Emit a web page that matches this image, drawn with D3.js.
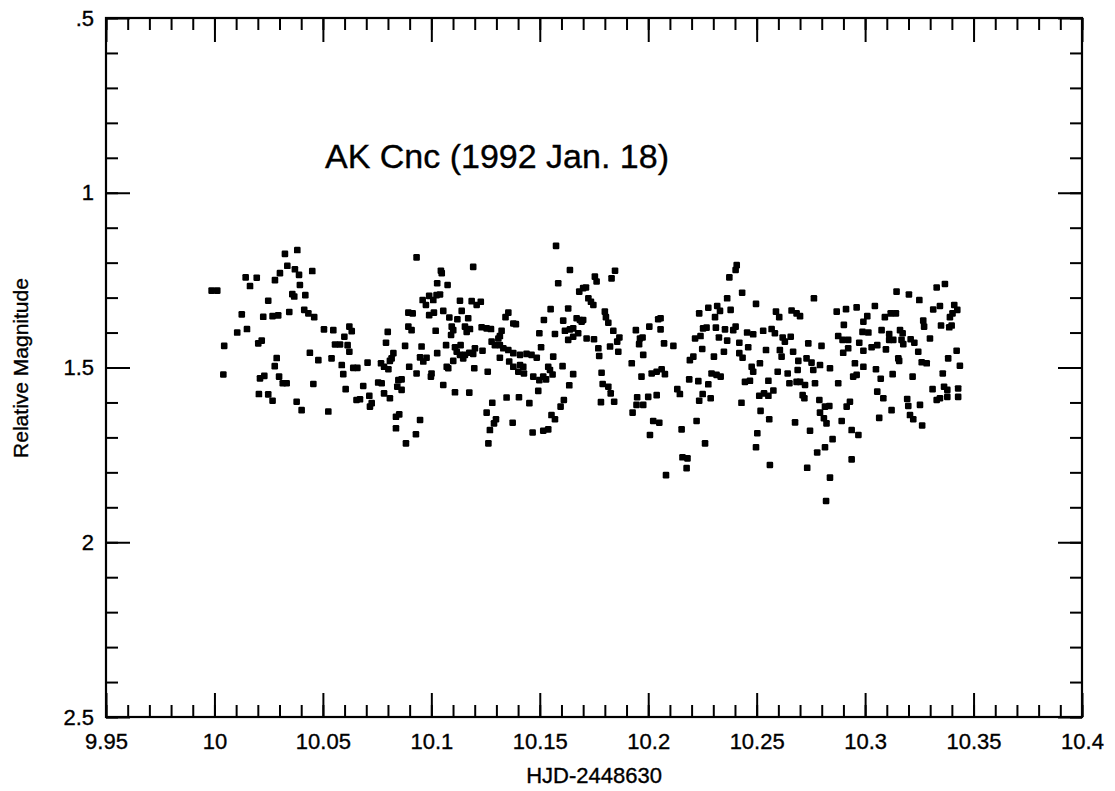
<!DOCTYPE html>
<html>
<head>
<meta charset="utf-8">
<script src="https://cdn.jsdelivr.net/npm/d3@7"></script>
<style>
  body { margin: 0; background: #fff; }
  text { font-family: "Liberation Sans", Arial, Helvetica, sans-serif; fill: #000; stroke: #000; stroke-width: 0.35px; }
</style>
</head>
<body>
<div id="data-viz"></div>
<script>
var hjd = [
  9.9987,10.0013,10.0325,10.0382,10.0144,10.0195,10.0164,10.0279,10.0302,10.0336,
  10.0371,10.0390,10.0451,10.0394,10.0359,10.0368,10.0419,10.0248,10.0126,10.0225,
  10.0268,10.0294,10.0345,10.0414,10.0433,10.0460,10.0105,10.0150,10.0045,10.0202,
  10.0218,10.0440,10.0287,10.0278,10.0041,10.0210,10.0230,10.0298,10.0315,10.0333,
  10.0456,10.0205,10.0248,10.0268,10.0379,10.0402,
  10.0932,10.0960,10.0894,10.0914,10.0505,10.0548,10.0622,10.0633,10.0599,10.0799,
  10.0894,10.0909,10.0556,10.0579,10.0614,10.0622,10.0791,10.0879,10.0955,10.0479,
  10.0540,10.0825,10.0817,10.0809,10.0948,10.0587,10.0594,10.0640,10.0659,10.0706,
  10.0768,10.0782,10.0802,10.0898,10.0932,10.0605,10.0686,10.0755,10.0771,10.0848,
  10.0863,10.0843,10.0863,10.0655,10.0671,10.0714,10.0725,10.0717,10.0782,10.0809,
  10.0525,10.0837,10.0852,10.0837,10.0948,10.0929,10.0883,
  10.1193,10.1044,10.1048,10.1027,10.1075,10.0975,10.0990,10.1009,10.1024,10.1040,
  10.1132,10.1186,10.1209,10.1228,10.0990,10.1012,10.1055,10.1140,10.1355,10.1342,
  10.1378,10.1390,10.1083,10.1120,10.1170,10.1020,10.1094,10.1101,10.1155,10.1178,
  10.1163,10.1232,10.1255,10.1275,10.1091,10.1324,10.1316,10.1309,10.1068,10.1109,
  10.1135,10.1278,10.1293,10.1316,10.1332,10.0978,10.0963,10.1027,10.1117,10.1132,
  10.1155,10.1175,10.1193,10.1201,10.1236,10.1147,10.1355,10.1378,10.1409,10.1439,
  10.1462,10.1101,10.1316,10.1359,10.1378,10.1409,10.1401,10.1424,10.1427,10.1071,
  10.1078,10.1198,10.1260,10.1001,10.0998,10.1470,10.1055,10.1109,10.1175,10.1347,
  10.1404,10.1452,10.1281,10.1255,10.1298,10.1289,10.1270,10.1375,10.1467,10.1263,
  10.1575,10.1639,10.1847,10.1831,10.1585,10.1754,10.1762,10.1682,10.1700,10.1713,
  10.1724,10.1736,10.1747,10.1550,10.1631,10.1800,10.1805,10.1816,10.1519,10.1608,
  10.1670,10.1685,10.1700,10.1693,10.1498,10.1570,10.1616,10.1639,10.1654,10.1677,
  10.1654,10.1631,10.1716,10.1750,10.1839,10.1867,10.1857,10.1824,10.1862,10.1943,
  10.1962,10.1974,10.1958,10.1506,10.1770,10.1774,10.1486,10.1562,10.1977,10.1539,
  10.1547,10.1605,10.1654,10.1559,10.1924,10.1969,10.1498,10.1516,10.1529,10.1493,
  10.1785,10.1790,10.1816,10.1827,10.1636,10.1611,10.1596,10.1782,10.1843,10.1949,
  10.1946,10.1977,10.1928,10.1554,10.1570,10.1516,10.1539,
  10.2408,10.2403,10.2374,10.2433,10.2364,10.2235,10.2277,10.2318,10.2331,10.2308,
  10.2380,10.2057,10.2046,10.2005,10.2057,10.2253,10.2269,10.2312,10.2354,10.2392,
  10.2403,10.2216,10.2241,10.2326,10.2364,10.2420,10.2456,10.2484,10.2461,10.2073,
  10.2116,10.2249,10.2303,10.2349,10.2420,10.2435,10.2192,10.2208,10.2477,10.2484,
  10.2016,10.2039,10.2062,10.2077,10.2292,10.2315,10.2334,10.2189,10.2231,10.2277,
  10.2446,10.2469,10.2134,10.2146,10.2251,10.2235,10.2288,10.2000,10.2039,10.2430,
  10.2023,10.2051,10.2223,10.2154,10.2008,10.2262,10.2158,10.2181,10.2177,10.2082,
  10.2764,10.2497,10.2589,10.2604,10.2661,10.2684,10.2700,10.2869,10.2912,10.2961,
  10.2530,10.2569,10.2584,10.2620,10.2630,10.2657,10.2902,10.2992,10.2988,10.2738,
  10.2799,10.2876,10.2896,10.2922,10.2973,10.2543,10.2607,10.2615,10.2668,10.2922,
  10.2899,10.2992,10.2515,10.2597,10.2643,10.2692,10.2730,10.2753,10.2761,10.2792,
  10.2838,10.2689,10.2953,10.2992,10.2945,10.2961,10.2554,10.2651,10.2684,10.2700,
  10.2723,10.2769,10.2876,10.2512,10.2534,10.2554,10.2577,10.2712,10.2720,10.2789,
  10.2815,10.2835,10.2792,10.2915,10.2930,10.2518,10.2558,10.2677,10.2746,10.2822,
  10.2810,10.2892,10.2503,10.2497,10.2850,10.2815,10.2779,10.2938,10.2969,10.2938,
  10.2561,10.2733,10.2838,10.2820,
  10.3368,10.3330,10.3145,10.3202,10.3250,10.3045,10.3345,10.3314,10.3411,10.3425,
  10.3403,10.3391,10.3010,10.3091,10.3118,10.3142,10.3268,10.3272,10.3350,10.3388,
  10.3399,10.3015,10.3076,10.3111,10.3111,10.3130,10.3161,10.3173,10.3168,10.3176,
  10.3210,10.3227,10.3299,10.3030,10.3056,10.3096,10.3153,10.3157,10.3245,10.3422,
  10.3383,10.3437,10.3050,10.3072,10.3127,10.3261,10.3284,10.3219,10.3358,10.3056,
  10.3084,10.3194,10.3199,10.3253,10.3311,10.3330,10.3345,10.3364,10.3379,10.3379,
  10.3429,10.3429,10.3122,10.3065,10.3207,10.3222,10.3263
];

var relMag = [
  1.280,1.280,1.175,1.164,1.242,1.243,1.267,1.250,1.230,1.209,
  1.219,1.235,1.224,1.264,1.290,1.297,1.293,1.309,1.348,1.355,
  1.353,1.351,1.341,1.335,1.345,1.356,1.400,1.390,1.438,1.431,
  1.423,1.458,1.473,1.496,1.520,1.531,1.524,1.526,1.545,1.545,
  1.547,1.576,1.577,1.595,1.598,1.622,
  1.185,1.307,1.343,1.345,1.391,1.393,1.383,1.396,1.412,1.398,
  1.383,1.393,1.434,1.434,1.436,1.455,1.429,1.438,1.440,1.479,
  1.474,1.459,1.474,1.481,1.471,1.493,1.519,1.501,1.501,1.486,
  1.488,1.498,1.505,1.498,1.517,1.562,1.553,1.543,1.545,1.536,
  1.534,1.555,1.564,1.593,1.591,1.581,1.602,1.612,1.574,1.588,
  1.626,1.641,1.634,1.674,1.650,1.691,1.717,
  1.212,1.223,1.230,1.259,1.264,1.321,1.295,1.307,1.293,1.291,
  1.309,1.310,1.321,1.312,1.350,1.343,1.338,1.338,1.343,1.356,
  1.374,1.376,1.357,1.362,1.359,1.395,1.383,1.393,1.383,1.390,
  1.398,1.385,1.388,1.390,1.407,1.395,1.410,1.417,1.436,1.442,
  1.436,1.426,1.436,1.436,1.445,1.472,1.483,1.459,1.455,1.464,
  1.464,1.458,1.461,1.445,1.452,1.474,1.450,1.459,1.464,1.461,
  1.464,1.481,1.472,1.483,1.498,1.493,1.512,1.498,1.517,1.498,
  1.502,1.502,1.512,1.517,1.526,1.526,1.550,1.571,1.572,1.586,
  1.585,1.602,1.601,1.629,1.648,1.660,1.679,1.658,1.686,1.717,
  1.152,1.221,1.223,1.245,1.259,1.240,1.254,1.283,1.273,1.271,
  1.302,1.312,1.321,1.333,1.331,1.340,1.356,1.372,1.364,1.366,
  1.359,1.364,1.364,1.369,1.402,1.404,1.395,1.391,1.388,1.402,
  1.412,1.421,1.417,1.419,1.395,1.414,1.426,1.440,1.455,1.393,
  1.417,1.414,1.433,1.442,1.445,1.467,1.472,1.469,1.464,1.498,
  1.507,1.496,1.519,1.520,1.488,1.526,1.536,1.526,1.534,1.567,
  1.515,1.547,1.555,1.574,1.551,1.593,1.612,1.599,1.598,1.585,
  1.607,1.607,1.629,1.636,1.648,1.681,1.677,
  1.207,1.221,1.242,1.286,1.302,1.345,1.329,1.324,1.338,1.356,
  1.335,1.359,1.362,1.383,1.391,1.388,1.386,1.386,1.391,1.393,
  1.383,1.417,1.410,1.414,1.423,1.429,1.400,1.405,1.442,1.431,
  1.438,1.447,1.469,1.455,1.459,1.472,1.479,1.469,1.498,1.512,
  1.517,1.512,1.505,1.519,1.517,1.521,1.526,1.534,1.539,1.548,
  1.541,1.538,1.562,1.576,1.576,1.595,1.588,1.584,1.579,1.601,
  1.653,1.658,1.653,1.677,1.693,1.717,1.757,1.760,1.788,1.808,
  1.302,1.318,1.340,1.356,1.337,1.345,1.353,1.340,1.333,1.328,
  1.395,1.390,1.402,1.414,1.426,1.412,1.378,1.369,1.398,1.431,
  1.438,1.410,1.421,1.421,1.429,1.450,1.450,1.469,1.455,1.445,
  1.458,1.452,1.488,1.512,1.517,1.481,1.474,1.486,1.507,1.493,
  1.502,1.507,1.488,1.498,1.526,1.521,1.538,1.545,1.541,1.541,
  1.550,1.545,1.545,1.581,1.574,1.581,1.566,1.579,1.588,1.593,
  1.612,1.610,1.629,1.612,1.598,1.624,1.648,1.657,1.681,1.660,
  1.645,1.653,1.688,1.728,1.705,1.728,1.743,1.679,1.693,1.763,
  1.779,1.787,1.815,1.882,
  1.261,1.271,1.283,1.291,1.307,1.324,1.324,1.334,1.321,1.335,
  1.345,1.356,1.353,1.356,1.345,1.345,1.366,1.383,1.380,1.385,
  1.380,1.400,1.393,1.404,1.421,1.421,1.393,1.402,1.421,1.433,
  1.419,1.429,1.417,1.442,1.436,1.448,1.474,1.481,1.455,1.452,
  1.474,1.495,1.505,1.532,1.519,1.485,1.488,1.526,1.517,1.569,
  1.588,1.590,1.610,1.607,1.562,1.593,1.588,1.555,1.564,1.584,
  1.560,1.584,1.622,1.644,1.636,1.648,1.666
];

// tick values and their printed labels
var xMajor = [9.95, 10, 10.05, 10.1, 10.15, 10.2, 10.25, 10.3, 10.35, 10.4];
var xLabels = ["9.95", "10", "10.05", "10.1", "10.15", "10.2", "10.25", "10.3", "10.35", "10.4"];
var yMajor = [0.5, 1, 1.5, 2, 2.5];
var yLabels = [".5", "1", "1.5", "2", "2.5"];

var title = "AK Cnc (1992 Jan. 18)";
var xTitle = "HJD-2448630";
var yTitle = "Relative Magnitude";

var data = hjd.map(function(d, i) { return {t: d, m: relMag[i]}; });

// minor ticks: every 0.01 in x, every 0.1 in y
var xMinor = d3.range(0, 46).map(function(i) { return +(9.95 + i * 0.01).toFixed(2); });
var yMinor = d3.range(0, 21).map(function(i) { return +(0.5 + i * 0.1).toFixed(1); });

// set the dimensions and margins of the graph
var W = 1115, H = 791;
var margin = {top: 18, right: 33, bottom: 74, left: 106},
    width = W - margin.left - margin.right,
    height = H - margin.top - margin.bottom;

var svg = d3.select("#data-viz")
  .append("svg")
    .attr("width", W)
    .attr("height", H)
  .append("g")
    .attr("transform", "translate(" + margin.left + "," + margin.top + ")");

var x = d3.scaleLinear().domain([9.95, 10.4]).range([0, width]);
var y = d3.scaleLinear().domain([0.5, 2.5]).range([0, height]);

function styleAxis(g) {
  g.select(".domain").remove();
  g.selectAll(".tick line").attr("stroke", "#000").attr("stroke-width", 2);
  g.selectAll(".tick text")
    .style("font-family", "'Liberation Sans', Arial, sans-serif")
    .style("font-size", "22px")
    .attr("fill", "#000");
}

// minor ticks on all four sides (pointing inward)
svg.append("g").attr("transform", "translate(0," + height + ")")
  .call(d3.axisBottom(x).tickValues(xMinor).tickSize(-12).tickFormat(""))
  .call(styleAxis);
svg.append("g")
  .call(d3.axisTop(x).tickValues(xMinor).tickSize(-12).tickFormat(""))
  .call(styleAxis);
svg.append("g")
  .call(d3.axisLeft(y).tickValues(yMinor).tickSize(-12).tickFormat(""))
  .call(styleAxis);
svg.append("g").attr("transform", "translate(" + width + ",0)")
  .call(d3.axisRight(y).tickValues(yMinor).tickSize(-12).tickFormat(""))
  .call(styleAxis);

// major ticks with labels
svg.append("g").attr("transform", "translate(0," + height + ")")
  .call(d3.axisBottom(x).tickValues(xMajor).tickSize(-24).tickPadding(16)
    .tickFormat(function(d, i) { return xLabels[i]; }))
  .call(styleAxis);
svg.append("g")
  .call(d3.axisTop(x).tickValues(xMajor).tickSize(-24).tickFormat(""))
  .call(styleAxis);
svg.append("g")
  .call(d3.axisLeft(y).tickValues(yMajor).tickSize(-24).tickPadding(12)
    .tickFormat(function(d, i) { return yLabels[i]; }))
  .call(styleAxis);
svg.append("g").attr("transform", "translate(" + width + ",0)")
  .call(d3.axisRight(y).tickValues(yMajor).tickSize(-24).tickFormat(""))
  .call(styleAxis);

// frame
svg.append("rect")
  .attr("width", width)
  .attr("height", height)
  .attr("fill", "none")
  .attr("stroke", "#000")
  .attr("stroke-width", 2.2);

// the points
svg.append("g")
  .selectAll("rect")
  .data(data)
  .enter()
  .append("rect")
    .attr("x", function(d) { return x(d.t) - 3.3; })
    .attr("y", function(d) { return y(d.m) - 3.3; })
    .attr("width", 6.6)
    .attr("height", 6.6)
    .attr("rx", 1.2)
    .attr("fill", "#000");

// title inside the plot
svg.append("text")
  .attr("x", 325 - margin.left)
  .attr("y", 168 - margin.top)
  .style("font-size", "34px")
  .text(title);

// axis titles
svg.append("text")
  .attr("x", width / 2)
  .attr("y", 783 - margin.top)
  .attr("text-anchor", "middle")
  .style("font-size", "22px")
  .text(xTitle);

svg.append("text")
  .attr("transform", "translate(" + (28 - margin.left) + "," + (368 - margin.top) + ") rotate(-90)")
  .attr("text-anchor", "middle")
  .style("font-size", "21px")
  .text(yTitle);
</script>
</body>
</html>
